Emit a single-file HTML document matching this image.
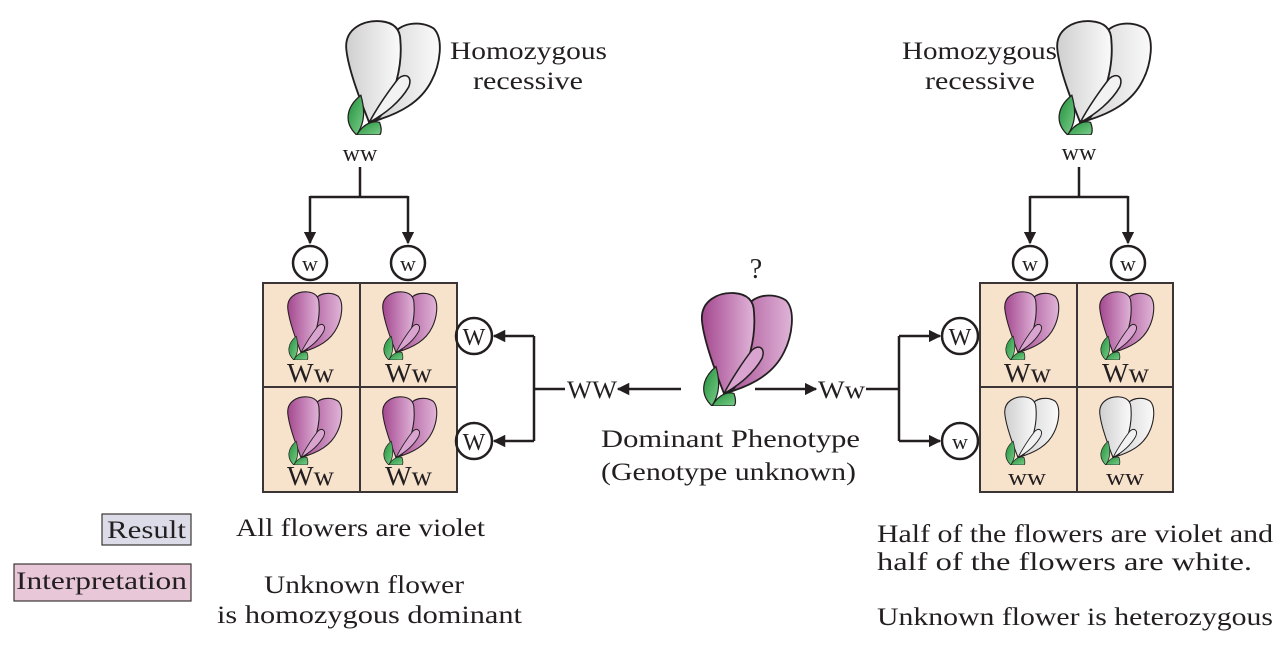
<!DOCTYPE html>
<html><head><meta charset="utf-8"><style>
body{margin:0;background:#fff;}
svg{display:block;font-family:"Liberation Serif",serif;}
text{fill:#231f20;}
</style></head><body>
<svg width="1275" height="668" viewBox="0 0 1275 668">
<defs>
<linearGradient id="vg" x1="0" y1="0" x2="1" y2="0"><stop offset="0" stop-color="#a4488f"/><stop offset="1" stop-color="#e0b4d8"/></linearGradient>
<linearGradient id="wg" x1="0" y1="0" x2="1" y2="0"><stop offset="0" stop-color="#cfcfcf"/><stop offset="1" stop-color="#fafafa"/></linearGradient>
<linearGradient id="gg" x1="0" y1="0" x2="1" y2="1"><stop offset="0" stop-color="#1f8e3a"/><stop offset="1" stop-color="#7ccf8a"/></linearGradient>
<marker id="ah" viewBox="0 0 10 10" refX="9" refY="5" markerWidth="5" markerHeight="5" orient="auto"><path d="M0 0L10 5L0 10z" fill="#231f20"/></marker>
<symbol id="fv" viewBox="0 0 100 112" preserveAspectRatio="none">
<path d="M52 18C58 4 80 2 92 10C102 20 98 45 90 60C80 80 60 92 30 100Z" fill="url(#vg)" stroke="#231f20" stroke-width="1.8"/>
<path d="M30 100C22 80 10 50 8 30C6 10 25 2 40 3C55 4 60 12 60 22C62 45 55 75 40 95Z" fill="url(#vg)" stroke="#231f20" stroke-width="1.8"/>
<path d="M30 100C38 85 50 68 58 58C65 52 72 56 68 66C60 80 45 92 30 100Z" fill="#d9a4cf" stroke="#231f20" stroke-width="1.5"/>
<path d="M18 112C5 100 8 85 22 74C26 88 26 100 18 112Z" fill="url(#gg)" stroke="#231f20" stroke-width="1.2"/>
<path d="M18 112C25 100 35 98 40 100C42 105 42 110 40 112Z" fill="url(#gg)" stroke="#231f20" stroke-width="1.2"/>
</symbol>
<symbol id="fw" viewBox="0 0 100 112" preserveAspectRatio="none">
<path d="M52 18C58 4 80 2 92 10C102 20 98 45 90 60C80 80 60 92 30 100Z" fill="url(#wg)" stroke="#231f20" stroke-width="1.8"/>
<path d="M30 100C22 80 10 50 8 30C6 10 25 2 40 3C55 4 60 12 60 22C62 45 55 75 40 95Z" fill="url(#wg)" stroke="#231f20" stroke-width="1.8"/>
<path d="M30 100C38 85 50 68 58 58C65 52 72 56 68 66C60 80 45 92 30 100Z" fill="#f2f2f2" stroke="#231f20" stroke-width="1.5"/>
<path d="M18 112C5 100 8 85 22 74C26 88 26 100 18 112Z" fill="url(#gg)" stroke="#231f20" stroke-width="1.2"/>
<path d="M18 112C25 100 35 98 40 100C42 105 42 110 40 112Z" fill="url(#gg)" stroke="#231f20" stroke-width="1.2"/>
</symbol>
</defs>
<g font-size="25">
<use href="#fw" x="338" y="18" width="104" height="117"/>
<text x="450" y="59" textLength="157" lengthAdjust="spacingAndGlyphs">Homozygous</text>
<text x="473" y="89" textLength="110" lengthAdjust="spacingAndGlyphs">recessive</text>
<text x="360" y="161" text-anchor="middle" font-size="24">ww</text>
<g stroke="#231f20" stroke-width="2.5" fill="none">
<path d="M360 167V197M310 197H408"/>
<path d="M310 196V243" marker-end="url(#ah)"/>
<path d="M408 196V243" marker-end="url(#ah)"/>
<circle cx="310" cy="263" r="17"/><circle cx="408" cy="263" r="17"/>
</g>
<text x="310" y="271" text-anchor="middle" font-size="22">w</text>
<text x="408" y="271" text-anchor="middle" font-size="22">w</text>
<g>
<rect x="263" y="283" width="194" height="209" fill="#f7e3cc" stroke="#3b3535" stroke-width="2"/>
<path d="M360 283V492M263 387H457" stroke="#3b3535" stroke-width="2"/>
<use href="#fv" x="283" y="290" width="60" height="70"/><use href="#fv" x="378" y="290" width="60" height="70"/>
<use href="#fv" x="283" y="395" width="60" height="70"/><use href="#fv" x="378" y="395" width="60" height="70"/>
<text x="287" y="382" font-size="27" textLength="47" lengthAdjust="spacingAndGlyphs">Ww</text><text x="385" y="382" font-size="27" textLength="47" lengthAdjust="spacingAndGlyphs">Ww</text>
<text x="287" y="485" font-size="27" textLength="47" lengthAdjust="spacingAndGlyphs">Ww</text><text x="385" y="485" font-size="27" textLength="47" lengthAdjust="spacingAndGlyphs">Ww</text>
</g>
<g stroke="#231f20" stroke-width="2.5" fill="none">
<circle cx="474" cy="336" r="18"/><circle cx="474" cy="441" r="18"/>
<path d="M534 336V441M534 389H565"/>
<path d="M534 336H494" marker-end="url(#ah)"/>
<path d="M534 441H494" marker-end="url(#ah)"/>
<path d="M681 389H618" marker-end="url(#ah)"/>
</g>
<text x="474" y="345" text-anchor="middle" font-size="24">W</text>
<text x="474" y="450" text-anchor="middle" font-size="24">W</text>
<text x="567" y="398" textLength="50" lengthAdjust="spacingAndGlyphs">WW</text>
<text x="756" y="278" text-anchor="middle" font-size="28">?</text>
<use href="#fv" x="694" y="290" width="100" height="116"/>
<text x="601" y="447" textLength="259" lengthAdjust="spacingAndGlyphs">Dominant Phenotype</text>
<text x="601" y="480" textLength="255" lengthAdjust="spacingAndGlyphs">(Genotype unknown)</text>
<g stroke="#231f20" stroke-width="2.5" fill="none">
<path d="M755 389H816" marker-end="url(#ah)"/>
<path d="M866 389H899M899 336V441"/>
<path d="M899 336H940" marker-end="url(#ah)"/>
<path d="M899 441H940" marker-end="url(#ah)"/>
<circle cx="960" cy="336" r="18"/><circle cx="960" cy="441" r="18"/>
</g>
<text x="818" y="398" textLength="47" lengthAdjust="spacingAndGlyphs">Ww</text>
<text x="960" y="345" text-anchor="middle" font-size="24">W</text>
<text x="960" y="449" text-anchor="middle" font-size="22">w</text>
<use href="#fw" x="1049" y="18" width="104" height="117"/>
<text x="902" y="59" textLength="155" lengthAdjust="spacingAndGlyphs">Homozygous</text>
<text x="925" y="89" textLength="110" lengthAdjust="spacingAndGlyphs">recessive</text>
<text x="1079" y="160" text-anchor="middle" font-size="24">ww</text>
<g stroke="#231f20" stroke-width="2.5" fill="none">
<path d="M1079 167V197M1030 197H1128"/>
<path d="M1030 196V243" marker-end="url(#ah)"/>
<path d="M1128 196V243" marker-end="url(#ah)"/>
<circle cx="1030" cy="263" r="17"/><circle cx="1128" cy="263" r="17"/>
</g>
<text x="1030" y="271" text-anchor="middle" font-size="22">w</text>
<text x="1128" y="271" text-anchor="middle" font-size="22">w</text>
<g>
<rect x="980" y="283" width="193" height="209" fill="#f7e3cc" stroke="#3b3535" stroke-width="2"/>
<path d="M1077 283V492M980 387H1173" stroke="#3b3535" stroke-width="2"/>
<use href="#fv" x="1000" y="290" width="60" height="70"/><use href="#fv" x="1095" y="290" width="60" height="70"/>
<use href="#fw" x="1000" y="395" width="60" height="70"/><use href="#fw" x="1095" y="395" width="60" height="70"/>
<text x="1004" y="382" font-size="27" textLength="47" lengthAdjust="spacingAndGlyphs">Ww</text><text x="1102" y="382" font-size="27" textLength="47" lengthAdjust="spacingAndGlyphs">Ww</text>
<text x="1008" y="485" font-size="24" textLength="38" lengthAdjust="spacingAndGlyphs">ww</text><text x="1106" y="485" font-size="24" textLength="38" lengthAdjust="spacingAndGlyphs">ww</text>
</g>
<rect x="102" y="514" width="89" height="31" fill="#dcdce8" stroke="#3b3535" stroke-width="1.2"/>
<text x="107" y="538" textLength="79" lengthAdjust="spacingAndGlyphs">Result</text>
<rect x="14" y="564" width="177" height="37" fill="#e8c8d8" stroke="#3b3535" stroke-width="1.2"/>
<text x="16" y="589" textLength="171" lengthAdjust="spacingAndGlyphs">Interpretation</text>
<text x="236" y="536" textLength="249" lengthAdjust="spacingAndGlyphs">All flowers are violet</text>
<text x="264" y="593" textLength="200" lengthAdjust="spacingAndGlyphs">Unknown flower</text>
<text x="217" y="623" textLength="305" lengthAdjust="spacingAndGlyphs">is homozygous dominant</text>
<text x="877" y="542" textLength="396" lengthAdjust="spacingAndGlyphs">Half of the flowers are violet and</text>
<text x="877" y="570" textLength="375" lengthAdjust="spacingAndGlyphs">half of the flowers are white.</text>
<text x="877" y="625" textLength="396" lengthAdjust="spacingAndGlyphs">Unknown flower is heterozygous</text>
</g>
</svg>
</body></html>
